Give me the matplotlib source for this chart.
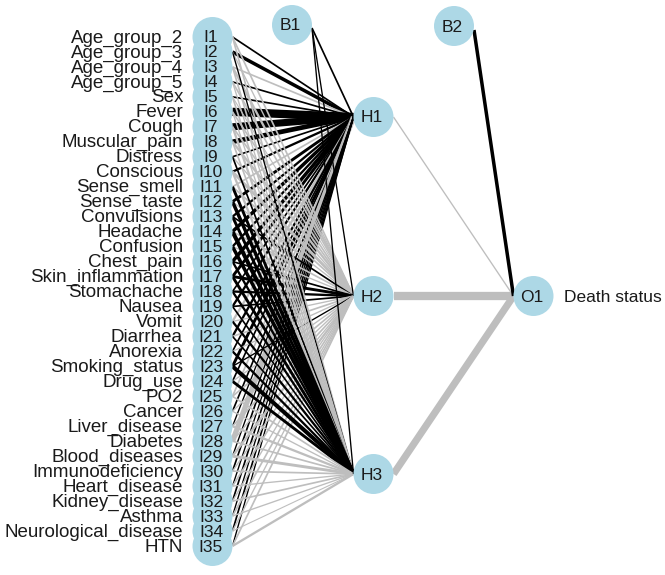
import matplotlib
matplotlib.use("Agg")
import matplotlib.pyplot as plt
from matplotlib.patches import Circle
import numpy as np

# ---------------- data ----------------
input_labels = ["Age_group_2", "Age_group_3", "Age_group_4", "Age_group_5", "Sex",
                "Fever", "Cough", "Muscular_pain", "Distress", "Conscious",
                "Sense_smell", "Sense_taste", "Convulsions", "Headache", "Confusion",
                "Chest_pain", "Skin_inflammation", "Stomachache", "Nausea", "Vomit",
                "Diarrhea", "Anorexia", "Smoking_status", "Drug_use", "PO2",
                "Cancer", "Liver_disease", "Diabetes", "Blood_diseases", "Immunodeficiency",
                "Heart_disease", "Kidney_disease", "Asthma", "Neurological_disease", "HTN"]
output_label = "Death status"

# connection weights input -> hidden (positive = black, negative = grey)
w_h1 = [1.5, 3.0, -1.5, 1.5, 1.5, 7.0, 6.0, 4.0, 1.5, 2.0,
        -1.5, 2.5, 2.0, 3.0, 2.0, 3.0, 2.5, 1.5, 2.0, -2.0,
        2.0, 1.5, 2.5, 1.5, -1.5, 1.5, 1.2, -4.5, 1.2, 1.5,
        1.2, 1.5, 1.2, 1.5, 1.2]
w_h2 = [-1.5, -1.2, -2.0, -1.5, -1.0, -1.5, -1.5, -2.0, -1.2, -2.5,
        -1.5, -1.2, 1.5, -1.5, -1.2, 1.5, 2.5, 2.0, 1.5, -1.2,
        -1.5, -1.2, 1.2, -1.2, -1.5, -1.2, -1.5, -1.2, -2.0, -1.2,
        -1.5, -1.2, -1.5, -1.2, -1.5]
w_h3 = [-1.5, 1.2, -1.5, -1.2, -1.5, -1.2, -2.0, -1.5, 1.5, -2.0,
        2.5, 3.0, 2.5, 3.5, 3.0, 2.0, 2.5, 2.0, 1.5, 2.0,
        1.5, 2.0, 3.5, 2.5, -1.5, -1.2, -2.0, -1.5, -2.5, -1.5,
        -1.2, -1.5, -1.2, -1.0, -2.0]
w_bias1 = [1.5, 1.2, 1.2]          # B1 -> H1, H2, H3
w_out = [-1.2, -7.0, -6.0]          # H1, H2, H3 -> O1
w_bias2 = [3.0]                     # B2 -> O1

# ---------------- style ----------------
node_col = "#ADD8E6"
pos_col = "black"
neg_col = "#BEBEBE"
font = "Liberation Sans"

fig = plt.figure(figsize=(6.65, 5.75), dpi=100)
ax = fig.add_axes([0, 0, 1, 1])
ax.set_xlim(0, 665)
ax.set_ylim(575, 0)
ax.axis("off")

# layout (pixel space)
r = 20.0
x_in, x_hid, x_out = 212.5, 373.5, 533.5
n_in = len(input_labels)
y_in = np.linspace(37, 546, n_in)
y_hid = np.array([117, 296, 474])
y_out = 296
b1 = (292, 25)
b2 = (454, 26)

all_w = np.abs(np.concatenate([w_h1, w_h2, w_h3, w_bias1, w_out, w_bias2]))
wmin, wmax = all_w.min(), all_w.max()


def lw(w):
    px = 1.1 + (abs(w) - wmin) / (wmax - wmin) * 7.2
    return px * 0.72


def seg(x0, y0, x1, y1, w):
    ax.plot([x0, x1], [y0, y1], color=pos_col if w >= 0 else neg_col,
            lw=lw(w), solid_capstyle="butt", zorder=1)


hidden_w = [w_h1, w_h2, w_h3]
for j in range(3):
    for i in range(n_in):
        seg(x_in + r, y_in[i], x_hid - r, y_hid[j], hidden_w[j][i])
for j in range(3):
    seg(b1[0] + r, b1[1] + 3, x_hid - r, y_hid[j], w_bias1[j])
for j in range(3):
    seg(x_hid + r, y_hid[j], x_out - r, y_out, w_out[j])
seg(b2[0] + r, b2[1] + 4, x_out - r, y_out, w_bias2[0])


def node(x, y, label):
    ax.add_patch(Circle((x, y), r, facecolor=node_col, edgecolor="none", zorder=3))
    ax.text(x - 1.5, y + 1, label, ha="center", va="center", fontsize=12.5,
            family=font, color="#1a1a1a", zorder=4)


for i in range(n_in):
    ax.add_patch(Circle((x_in, y_in[i]), r, facecolor=node_col, edgecolor="none", zorder=3))
for i in range(n_in):
    ax.text(x_in - 1.5, y_in[i] + 1, f"I{i+1}", ha="center", va="center",
            fontsize=12.5, family=font, color="#1a1a1a", zorder=4)
    ax.text(183, y_in[i] + 1, input_labels[i], ha="right", va="center",
            fontsize=13.5, family=font, color="#1a1a1a", zorder=4)

for j in range(3):
    node(x_hid, y_hid[j], f"H{j+1}")
node(x_out, y_out, "O1")
node(*b1, "B1")
node(*b2, "B2")
ax.text(564, y_out + 1, output_label, ha="left", va="center", fontsize=12.5,
        family=font, color="#1a1a1a", zorder=4)

fig.savefig("out.png", dpi=100)
